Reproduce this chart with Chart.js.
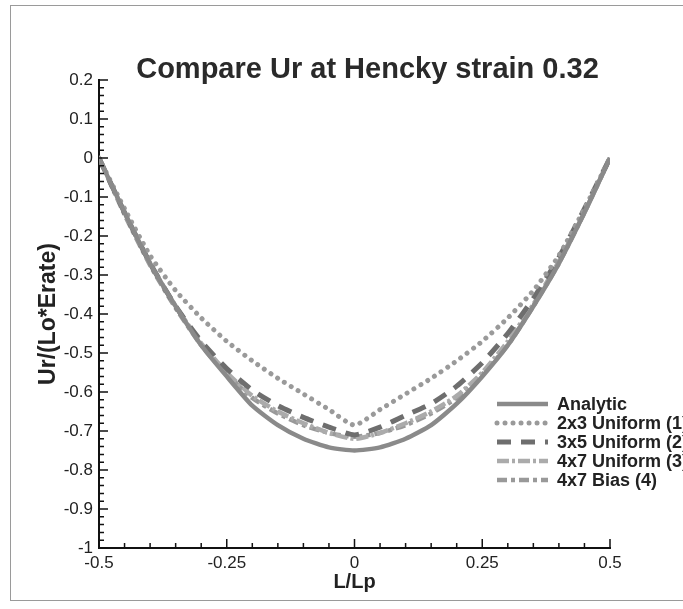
<!DOCTYPE html>
<html>
<head>
<meta charset="utf-8">
<script src="https://cdn.jsdelivr.net/npm/chart.js@4.4.1/dist/chart.umd.min.js"></script>
<style>
  html, body { margin: 0; padding: 0; background: #fff; overflow: hidden; }
  #wrap { position: relative; width: 683px; height: 609px; }
  #frame { position: absolute; left: 10px; top: 5px; width: 700px; height: 594px; border: 1.5px solid #9a9a9a; }
  #c { position: absolute; left: 0; top: 0; }
</style>
</head>
<body>
<div id="wrap">
  <div id="frame"></div>
  <canvas id="c" width="683" height="609"></canvas>
</div>
<script>
// L/Lp positions along the specimen
const xPos = [-0.5, -0.45, -0.4, -0.35, -0.3, -0.25, -0.2, -0.15, -0.1, -0.05, 0,
              0.05, 0.1, 0.15, 0.2, 0.25, 0.3, 0.35, 0.4, 0.45, 0.5];

// Ur/(Lo*Erate)
const analytic = [0, -0.14, -0.27, -0.38, -0.48, -0.56, -0.635, -0.685, -0.72, -0.742, -0.75,
                  -0.742, -0.72, -0.685, -0.63, -0.56, -0.48, -0.38, -0.27, -0.14, 0];
const uniform2x3 = [0, -0.13, -0.25, -0.34, -0.41, -0.47, -0.52, -0.565, -0.605, -0.645, -0.685,
                    -0.645, -0.605, -0.565, -0.52, -0.47, -0.41, -0.34, -0.25, -0.13, 0];
const uniform3x5 = [0, -0.14, -0.27, -0.38, -0.47, -0.54, -0.595, -0.635, -0.665, -0.69, -0.71,
                    -0.69, -0.66, -0.63, -0.585, -0.525, -0.45, -0.36, -0.255, -0.13, 0];
const uniform4x7 = [0, -0.14, -0.27, -0.38, -0.475, -0.55, -0.61, -0.65, -0.68, -0.705, -0.72,
                    -0.705, -0.68, -0.65, -0.61, -0.55, -0.47, -0.375, -0.265, -0.14, 0];
const bias4x7 = [0, -0.145, -0.275, -0.385, -0.48, -0.555, -0.615, -0.655, -0.685, -0.705, -0.715,
                 -0.705, -0.685, -0.655, -0.615, -0.555, -0.48, -0.38, -0.27, -0.14, 0];

const seriesNames = ["Analytic", "2x3 Uniform (1)", "3x5 Uniform (2)", "4x7 Uniform (3)", "4x7 Bias (4)"];
const chartTitle = "Compare Ur at Hencky strain 0.32";

const xTicks = [-0.5, -0.25, 0, 0.25, 0.5];
const yTicks = [0.2, 0.1, 0, -0.1, -0.2, -0.3, -0.4, -0.5, -0.6, -0.7, -0.8, -0.9, -1];

const FONT = "'Liberation Sans', Arial, Helvetica, sans-serif";

function pts(arr) {
  return arr.map((v, i) => ({x: xPos[i], y: v}));
}

// inward pointing major / minor ticks like the original plot
const insideTicks = {
  id: 'insideTicks',
  afterDraw(chart) {
    const ctx = chart.ctx;
    const xs = chart.scales.x, ys = chart.scales.y;
    const area = chart.chartArea;
    ctx.save();
    ctx.strokeStyle = '#111';
    ctx.lineWidth = 1.5;
    ctx.beginPath();
    for (let i = 0; i <= 20; i++) {
      const px = xs.getPixelForValue(-0.5 + i * 0.05);
      const len = (i % 5 === 0) ? 9 : 5;
      ctx.moveTo(px, area.bottom);
      ctx.lineTo(px, area.bottom - len);
    }
    for (let i = 0; i <= 60; i++) {
      const py = ys.getPixelForValue(-1 + i * 0.02);
      const len = (i % 5 === 0) ? 9 : 5;
      ctx.moveTo(area.left, py);
      ctx.lineTo(area.left + len, py);
    }
    ctx.stroke();
    ctx.restore();
  }
};

// title sits a bit right of the plot centre in the original
const plotTitle = {
  id: 'plotTitle',
  afterDraw(chart) {
    const ctx = chart.ctx;
    const area = chart.chartArea;
    ctx.save();
    ctx.font = 'bold 29px ' + FONT;
    ctx.fillStyle = '#2a2a2a';
    ctx.textAlign = 'center';
    ctx.textBaseline = 'alphabetic';
    ctx.fillText(chartTitle, (area.left + area.right) / 2 + 13, area.top - 2);
    ctx.restore();
  }
};

// legend sitting inside the plot, lower right
const innerLegend = {
  id: 'innerLegend',
  afterDraw(chart) {
    const ctx = chart.ctx;
    const area = chart.chartArea;
    const x0 = area.right - 113;
    const y0 = area.bottom - 144;
    ctx.save();
    ctx.font = 'bold 18px ' + FONT;
    ctx.textBaseline = 'middle';
    ctx.fillStyle = '#222';
    chart.data.datasets.forEach((ds, i) => {
      const y = y0 + i * 19;
      ctx.strokeStyle = ds.borderColor;
      ctx.lineWidth = ds.borderWidth;
      ctx.lineCap = ds.borderCapStyle || 'butt';
      ctx.setLineDash(ds.borderDash || []);
      ctx.beginPath();
      ctx.moveTo(x0, y);
      ctx.lineTo(x0 + 51, y);
      ctx.stroke();
      ctx.setLineDash([]);
      ctx.fillText(ds.label, x0 + 60, y + 1);
    });
    ctx.restore();
  }
};

new Chart(document.getElementById('c'), {
  type: 'line',
  data: {
    datasets: [
      {label: seriesNames[0], data: pts(analytic), borderColor: '#8a8a8a', borderWidth: 4.5},
      {label: seriesNames[1], data: pts(uniform2x3), borderColor: '#9a9a9a', borderWidth: 5,
       borderDash: [0.01, 8], borderCapStyle: 'round'},
      {label: seriesNames[2], data: pts(uniform3x5), borderColor: '#6e6e6e', borderWidth: 5,
       borderDash: [14, 10]},
      {label: seriesNames[3], data: pts(uniform4x7), borderColor: '#ababab', borderWidth: 4.5,
       borderDash: [12, 3, 3, 3]},
      {label: seriesNames[4], data: pts(bias4x7), borderColor: '#999999', borderWidth: 4.5,
       borderDash: [10, 4, 4, 4]}
    ]
  },
  options: {
    responsive: false,
    animation: false,
    layout: {padding: {left: 0, right: 73, top: 80, bottom: 0}},
    elements: {point: {radius: 0}, line: {tension: 0.2}},
    plugins: {
      legend: {display: false},
      tooltip: {enabled: false},
      title: {display: false}
    },
    scales: {
      x: {
        type: 'linear',
        min: -0.5, max: 0.5,
        afterBuildTicks: s => { s.ticks = xTicks.map(v => ({value: v})); },
        afterFit: s => { s.height = 61; },
        grid: {display: false, drawTicks: false},
        border: {display: true, color: '#111', width: 2},
        ticks: {color: '#222', padding: 5, font: {family: FONT, size: 17},
                maxRotation: 0, autoSkip: false, callback: v => String(v)},
        title: {display: true, text: 'L/Lp', color: '#222',
                font: {family: FONT, size: 20, weight: 'bold'}, padding: {top: 0, bottom: 15}}
      },
      y: {
        type: 'linear',
        min: -1, max: 0.2,
        afterBuildTicks: s => { s.ticks = yTicks.map(v => ({value: v})); },
        afterFit: s => { s.width = 99; },
        grid: {display: false, drawTicks: false},
        border: {display: true, color: '#111', width: 2},
        ticks: {color: '#222', padding: 6, font: {family: FONT, size: 17},
                autoSkip: false, callback: v => String(v)},
        title: {display: true, text: 'Ur/(Lo*Erate)', color: '#222',
                font: {family: FONT, size: 23, weight: 'bold'}, padding: {top: 35, bottom: 0}}
      }
    }
  },
  plugins: [insideTicks, plotTitle, innerLegend]
});
</script>
</body>
</html>
